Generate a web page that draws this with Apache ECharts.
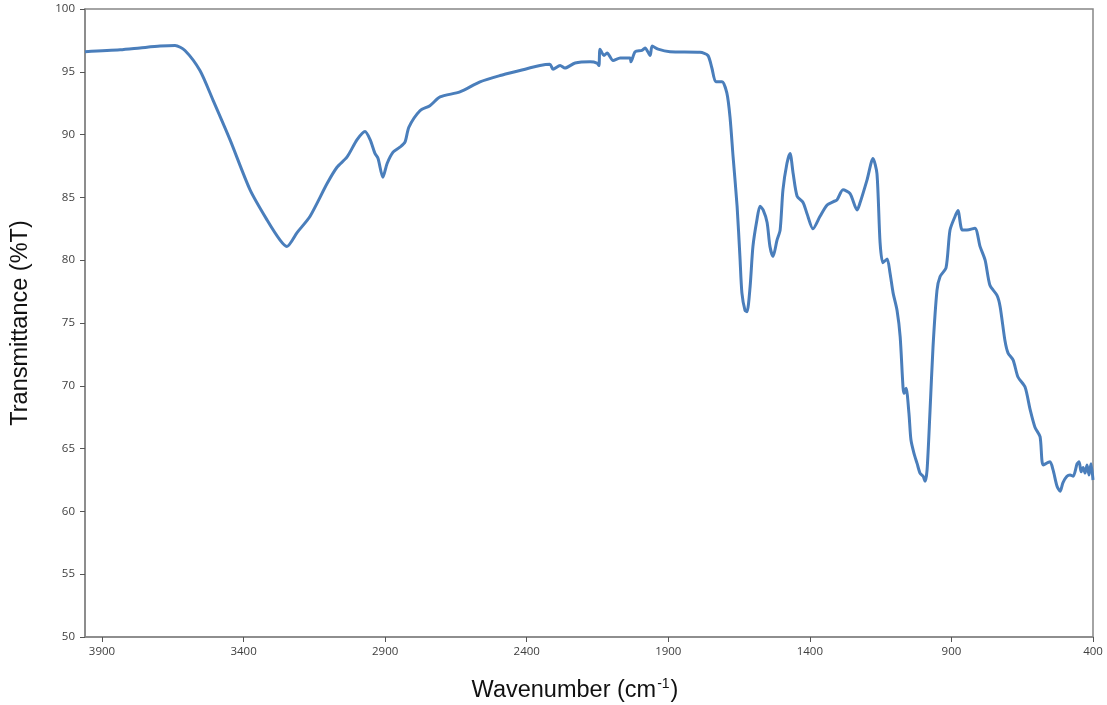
<!DOCTYPE html>
<html>
<head>
<meta charset="utf-8">
<script src="https://cdn.jsdelivr.net/npm/echarts@6/dist/echarts.min.js"></script>
<style>html,body{margin:0;padding:0;background:#fff;}#c{width:1107px;height:705px;}</style>
</head>
<body>
<div id="c"></div>
<script>
// Wavenumber (cm-1) and transmittance (%T)
const wavenumbers = [3960,3836,3766,3695,3642,3607,3554,3508,3448,3377,3317,3271,3247,3211,3165,3105,3070,3035,2999,2971,2953,2936,2925,2908,2893,2872,2848,2830,2816,2777,2742,2706,2636,2565,2494,2424,2353,2318,2307,2282,2265,2229,2176,2152,2145,2141,2127,2116,2095,2070,2035,2032,2017,1993,1982,1964,1957,1936,1894,1788,1760,1746,1732,1710,1693,1682,1671,1657,1647,1640,1629,1622,1611,1601,1587,1576,1565,1551,1541,1530,1516,1505,1495,1481,1470,1459,1445,1424,1410,1389,1364,1339,1318,1304,1283,1258,1233,1223,1198,1177,1163,1152,1142,1127,1117,1106,1092,1081,1071,1067,1060,1050,1043,1032,1021,1011,1000,993,986,976,965,951,940,919,905,887,877,862,845,817,799,781,764,739,728,711,700,682,665,640,622,605,587,576,552,541,527,516,506,492,481,470,456,449,442,435,428,421,414,407,400];
const transmittance = [96.6,96.75,96.9,97.05,97.1,96.7,95.1,92.75,89.6,85.6,83.2,81.6,81.1,82.2,83.5,86.1,87.4,88.2,89.6,90.25,89.6,88.5,88.1,86.6,87.7,88.6,89.0,89.4,90.6,91.9,92.3,93.0,93.4,94.2,94.7,95.1,95.5,95.6,95.2,95.5,95.3,95.7,95.8,95.7,95.5,96.8,96.3,96.5,95.9,96.1,96.1,95.8,96.6,96.7,96.9,96.3,97.05,96.8,96.6,96.55,96.3,95.3,94.2,94.2,93.3,91.4,88.2,84.3,80.3,77.4,76.0,75.9,77.9,81.1,83.2,84.3,84.0,83.0,81.1,80.3,81.6,82.4,85.6,87.7,88.5,86.9,85.1,84.6,83.7,82.5,83.5,84.4,84.65,84.8,85.6,85.3,84.0,84.55,86.4,88.1,86.9,81.4,79.8,80.1,79.0,77.4,76.0,73.9,69.9,69.4,69.8,67.8,65.7,64.6,63.8,63.05,62.8,62.4,63.3,67.8,73.1,77.6,78.7,79.4,82.4,83.5,83.95,82.4,82.4,82.55,81.1,80.0,78.0,77.2,76.3,73.6,72.6,72.05,70.7,69.9,68.1,66.7,65.95,63.7,63.95,63.3,62.0,61.6,62.3,62.8,62.9,62.8,63.8,63.95,63.15,63.5,63.05,63.7,62.9,63.8,62.5];
const xTicks = [3900,3400,2900,2400,1900,1400,900,400];
const yTicks = [50,55,60,65,70,75,80,85,90,95,100];

const chart = echarts.init(document.getElementById('c'), null, {renderer:'canvas'});
const axisCol = '#868686';
const lblCol = '#404040';
chart.setOption({
  animation:false,
  backgroundColor:'#ffffff',
  grid:{left:85,right:14,top:9,bottom:68,show:true,borderColor:axisCol,borderWidth:1.5,containLabel:false,outerBoundsMode:'none'},
  xAxis:{
    type:'value', inverse:true, min:400, max:3960,
    axisLine:{show:true,onZero:false,lineStyle:{color:axisCol,width:1.5}},
    axisTick:{show:true,inside:false,length:5,customValues:xTicks,lineStyle:{color:'#555',width:1}},
    axisLabel:{show:true,customValues:xTicks,margin:9,color:lblCol,fontFamily:'Open Sans',fontSize:11.5,
      formatter:function(v){return String(v);}},
    splitLine:{show:false},
    name:'{a|Wavenumber (cm}{s|-1}{a|)}',
    nameLocation:'middle', nameGap:40,
    nameTextStyle:{
      padding:[0,28,0,0],
      rich:{
        a:{fontFamily:'Liberation Sans',fontSize:23.5,color:'#111',verticalAlign:'bottom',lineHeight:26},
        s:{fontFamily:'Liberation Sans',fontSize:14,color:'#111',verticalAlign:'top',lineHeight:26,padding:[0,1,11,1]}
      }
    }
  },
  yAxis:{
    type:'value', min:50, max:100, interval:5,
    axisLine:{show:true,lineStyle:{color:axisCol,width:1.5}},
    axisTick:{show:true,inside:false,length:5,lineStyle:{color:'#555',width:1}},
    axisLabel:{margin:10,color:lblCol,fontFamily:'Open Sans',fontSize:11.5,formatter:function(v){return String(v);}},
    splitLine:{show:false},
    name:'Transmittance (%T)', nameLocation:'middle', nameGap:52, nameRotate:90,
    nameTextStyle:{fontFamily:'Liberation Sans',fontSize:23.5,color:'#111'}
  },
  series:[{
    type:'line',
    data: wavenumbers.map((w,i)=>[w, transmittance[i]]),
    showSymbol:false, smooth:0.25,
    lineStyle:{color:'#4a7ebb',width:3},
    itemStyle:{color:'#4a7ebb'}
  }]
});
</script>
</body>
</html>
